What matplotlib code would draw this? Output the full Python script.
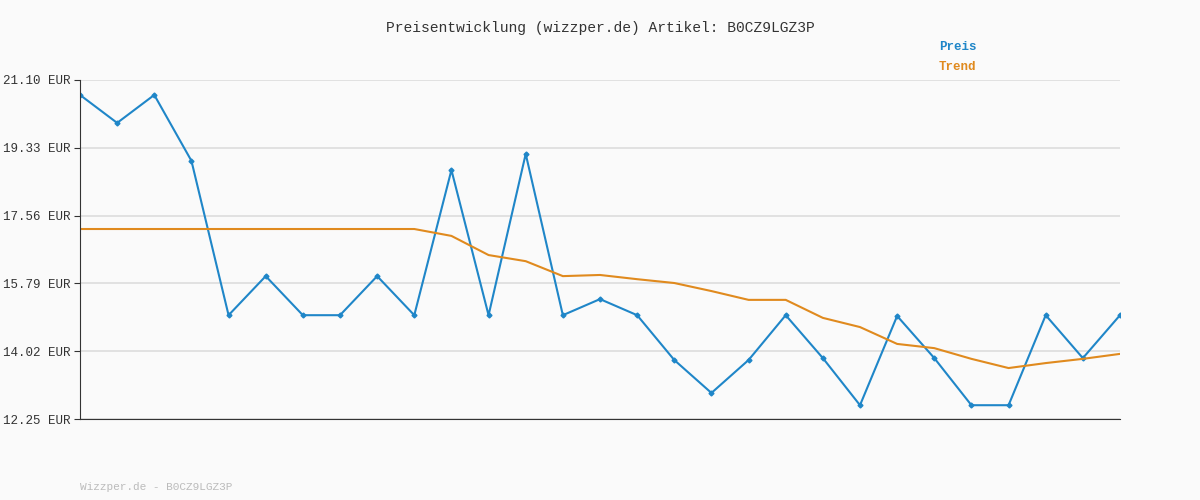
import matplotlib.pyplot as plt

price = [20.71, 19.98, 20.71, 18.99, 14.96, 15.98, 14.96, 14.96, 15.98, 14.96,
         18.75, 14.96, 19.17, 14.96, 15.38, 14.96, 13.79, 12.93, 13.79, 14.96,
         13.84, 12.61, 14.94, 13.84, 12.61, 12.61, 14.96, 13.84, 14.96]
trend = [17.21] * 10 + [17.03, 16.53, 16.37, 15.98, 16.01, 15.90, 15.80, 15.59,
                        15.36, 15.36, 14.89, 14.65, 14.21, 14.10, 13.82, 13.58,
                        13.71, 13.82, 13.95]
yticks = [12.25, 14.02, 15.79, 17.56, 19.33, 21.10]

plt.rcParams['font.family'] = ['Liberation Mono', 'DejaVu Sans Mono']
fig = plt.figure(figsize=(12, 5), dpi=100, facecolor='#fafafa')
ax = fig.add_axes([80 / 1200, 81 / 500, 1040 / 1200, 339 / 500])
ax.set_facecolor('#fafafa')

x = range(len(price))
ax.plot(x, price, color='#1f86c8', lw=1.5, marker='D', ms=2.5, label='Preis')
ax.plot(x, trend, color='#e08a1e', lw=1.5, label='Trend')

ax.set_xlim(0, len(price) - 1)
ax.set_ylim(12.25, 21.10)
ax.set_yticks(yticks)
ax.set_yticklabels([f'{v:.2f} EUR' for v in yticks], fontsize=9, color='#333333')
ax.set_xticks([])
ax.tick_params(axis='y', length=4, color='#333333', pad=3)
ax.grid(axis='y', color='#dddddd', lw=1.2)
ax.set_axisbelow(True)
for s in ['top', 'right']:
    ax.spines[s].set_visible(False)
for s in ['left', 'bottom']:
    ax.spines[s].set_color('#333333')

fig.text(0.5, 1 - 28 / 500, 'Preisentwicklung (wizzper.de) Artikel: B0CZ9LGZ3P',
         ha='center', va='center', fontsize=10.5, color='#333333')
fig.text(939 / 1200, 1 - 47 / 500, 'Preis', color='#1f86c8', fontsize=9,
         fontweight='bold', va='center')
fig.text(939 / 1200, 1 - 67 / 500, 'Trend', color='#e08a1e', fontsize=9,
         fontweight='bold', va='center')
fig.text(80 / 1200, 1 - 487 / 500, 'Wizzper.de - B0CZ9LGZ3P', color='#bbbbbb',
         fontsize=8, va='center')

fig.savefig('out.png', facecolor=fig.get_facecolor())
